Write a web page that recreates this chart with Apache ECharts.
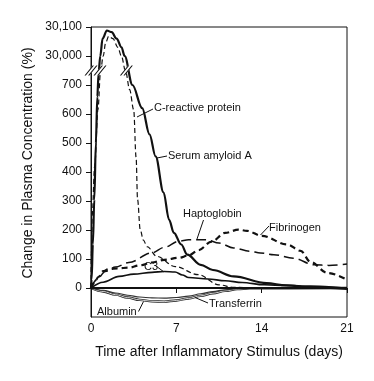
<!DOCTYPE html>
<html><head><meta charset="utf-8">
<script src="https://cdn.jsdelivr.net/npm/echarts@6/dist/echarts.min.js"></script>
<style>html,body{margin:0;padding:0;background:#fff}#c{width:374px;height:381px}</style>
</head><body><div id="c"></div>
<script>
// ---- data (days, % change) ----
const xTicks = [0, 7, 14, 21];
const yTicks = [0, 100, 200, 300, 400, 500, 600, 700, 30000, 30100];
const serumAmyloidA = [[0,0],[0.05,30],[0.15,150],[0.27,305],[0.4,500],[0.52,660],[0.62,740],[0.76,30000],[0.95,30060],[1.3,30088],[1.7,30082],[2.1,30060],[2.5,30030],[2.76,30000],[3.4,700],[4.2,620],[4.8,530],[5.3,454],[5.95,330],[6.4,236],[6.8,190],[7.4,150],[7.9,115],[9.0,80],[10,62],[11.7,40],[14.4,17],[16,9],[18,3],[21,-3]];
const cReactiveProtein = [[0,0],[0.03,120],[0.1,250],[0.3,420],[0.57,615],[0.78,745],[1.0,30000],[1.2,30045],[1.45,30068],[1.8,30060],[2.2,30030],[2.49,30000],[2.85,745],[3.17,684],[3.5,615],[3.7,450],[3.82,305],[4.04,200],[4.3,165],[4.6,143],[5.4,109],[6.9,74],[8.8,46],[10.5,11],[11.7,2],[14,0],[21,0]];
const haptoglobin = [[0,0],[0.5,30],[1.17,57],[2,72],[3.1,88],[5.0,121],[6,140],[7.2,161],[8,166],[9.5,166],[10.5,155],[11.7,138],[13,127],[13.9,121],[15,115],[16.6,103],[18.3,80],[19.5,78],[21,83]];
const fibrinogen = [[0,0],[0.3,20],[0.6,38],[1.0,58],[1.45,65],[2.2,68],[3.1,70],[4,78],[5,88],[6,97],[7.2,104],[8,112],[8.8,130],[9.9,160],[11,190],[12.1,201],[12.8,197],[14,180],[16.1,150],[17.2,128],[18,90],[19.4,52],[21,29]];
const c3 = [[0,0],[1,20],[2.3,40],[3.5,48],[5,54],[6,57],[6.9,55],[7.5,45],[8,36],[9.6,31],[11,25],[12.4,19],[14.2,11],[16,9],[18,7],[19.5,4],[21,-2]];
const transferrin = [[0,0],[1,-8],[2,-17],[3,-25],[4,-31],[5,-34],[6,-35],[7,-33],[8,-28],[9,-20],[10,-12],[11,-6],[12,-2],[13,0],[21,0]];
const albumin = [[0,0],[1,-12],[2,-23],[3,-33],[4,-41],[5,-46],[6,-47],[7,-43],[8,-36],[9,-27],[10,-18],[11,-10],[12,-4],[13,-1],[21,0]];
const breakDays = [0, 0.74, 2.9];

// ---- axis break: values above the break are drawn 29,200 lower ----
const BREAK_SHIFT = 29200, BREAK_LEVEL = 750;
const toAxis = v => v > 20000 ? v - BREAK_SHIFT : v;
const fromAxis = a => a > BREAK_LEVEL ? a + BREAK_SHIFT : a;
const fmt = v => v >= 1000 ? String(v).replace(/\B(?=(\d{3})+(?!\d))/g, ',') : String(v);

const FONT = '"Liberation Sans", Arial, Helvetica, sans-serif';
const INK = '#111';

function line(name, data, style, z) {
  return {
    name, type: 'line', data: data.map(p => [p[0], toAxis(p[1])]),
    showSymbol: false, smooth: 0.35, smoothMonotone: 'x', silent: true,
    lineStyle: Object.assign({ color: INK, cap: 'butt' }, style), z: z || 3
  };
}

const chart = echarts.init(document.getElementById('c'), null, { renderer: 'canvas' });
const tickAxis = yTicks.map(toAxis);

chart.setOption({
  animation: false,
  backgroundColor: '#fff',
  grid: { left: 91, top: 27, width: 256, height: 290, show: true, borderColor: INK, borderWidth: 1, backgroundColor: 'transparent' },
  xAxis: {
    type: 'value', min: 0, max: 21, interval: 7,
    axisLine: { show: true, lineStyle: { color: INK, width: 1 } },
    axisTick: { show: true, length: 5, lineStyle: { color: INK }, customValues: xTicks },
    axisLabel: { color: INK, fontSize: 12, fontFamily: FONT, margin: 6, customValues: xTicks },
    splitLine: { show: false },
    name: 'Time after Inflammatory Stimulus (days)', nameLocation: 'middle', nameGap: 28,
    nameTextStyle: { color: INK, fontSize: 14, fontFamily: FONT }
  },
  yAxis: {
    type: 'value', min: -100, max: 900, interval: 100,
    axisLine: { show: true, lineStyle: { color: INK, width: 1 } },
    axisTick: { show: true, length: 5, lineStyle: { color: INK }, customValues: tickAxis },
    axisLabel: { color: INK, fontSize: 12, fontFamily: FONT, margin: 9, customValues: tickAxis,
      formatter: a => fmt(fromAxis(a)) },
    splitLine: { show: false }
  },
  series: [
    line('Albumin', albumin, { width: 2.4, color: '#222' }, 3),
    line('Albumin-core', albumin, { width: 0.8, color: '#fff' }, 3),
    line('Transferrin', transferrin, { width: 1.1, color: '#333' }, 3),
    line('C3', c3, { width: 1.6 }, 4),
    line('Haptoglobin', haptoglobin, { width: 1.5, type: [10, 5] }, 4),
    line('Fibrinogen', fibrinogen, { width: 2.2, type: [6, 4] }, 4),
    line('C-reactive protein', cReactiveProtein, { width: 1.2, type: [5, 3] }, 5),
    Object.assign(line('Serum amyloid A', serumAmyloidA, { width: 2.2 }, 6), {
      markLine: { silent: true, symbol: 'none', label: { show: false },
        lineStyle: { color: INK, width: 2, type: 'solid' }, data: [{ yAxis: 0 }] }
    }),
    { type: 'scatter', silent: true, clip: false, z: 10,
      symbol: 'path://M0 10 L6 10 L16 0 L10 0 Z', symbolSize: [13, 10],
      itemStyle: { color: '#fff', opacity: 1 },
      data: breakDays.map(d => [d, BREAK_LEVEL]) },
    { type: 'scatter', silent: true, clip: false, z: 11,
      symbol: 'path://M0 10 L1.6 10 L11.6 0 L10 0 Z M4.4 10 L6 10 L16 0 L14.4 0 Z', symbolSize: [13, 10],
      itemStyle: { color: INK, opacity: 1 },
      data: breakDays.map(d => [d, BREAK_LEVEL]) }
  ],
  graphic: [
    { type: 'text', x: 28, y: 163, rotation: Math.PI / 2, silent: true,
      style: { text: 'Change in Plasma Concentration (%)', fill: INK, font: '14px ' + FONT, textAlign: 'center', textVerticalAlign: 'middle' } },
    ...[
      ['C-reactive protein', 154, 108],
      ['Serum amyloid A', 168, 155.5],
      ['Haptoglobin', 183, 214],
      ['Fibrinogen', 269, 228],
      ['C3', 144, 267],
      ['Transferrin', 209, 303.5],
      ['Albumin', 97, 312]
    ].map(t => ({ type: 'text', x: t[1], y: t[2], silent: true, z: 20,
      style: { text: t[0], fill: INK, font: '11px ' + FONT, textAlign: 'left', textVerticalAlign: 'middle' } })),
    ...[
      [153, 109, 137, 117],
      [167, 156, 157, 158],
      [203.5, 220, 197, 239],
      [269, 226, 260.5, 235],
      [156, 266, 164, 272],
      [208, 303, 195, 297.5],
      [138.5, 311.5, 143.5, 301.5]
    ].map(l => ({ type: 'line', silent: true, z: 20,
      shape: { x1: l[0], y1: l[1], x2: l[2], y2: l[3] }, style: { stroke: INK, lineWidth: 1 } }))
  ]
});
</script></body></html>
